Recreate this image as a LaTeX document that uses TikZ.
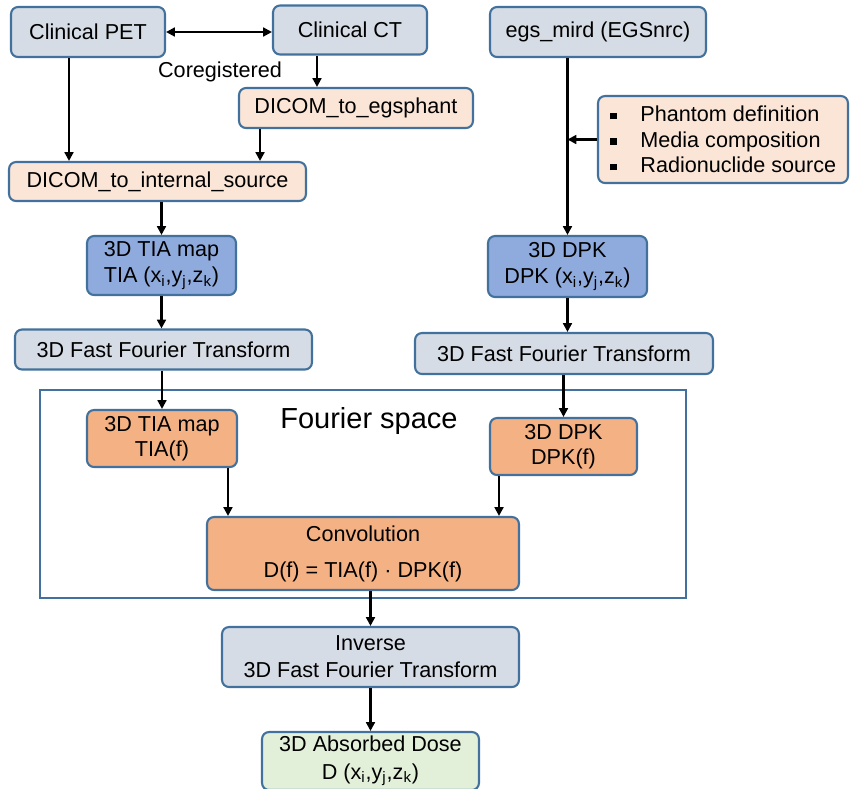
\documentclass[tikz,border=0pt]{standalone}
\usepackage{fontspec}
\setmainfont{Liberation Sans}
\usetikzlibrary{arrows.meta}
\definecolor{boxline}{HTML}{41719C}
\definecolor{grayfill}{HTML}{D6DCE5}
\definecolor{peachfill}{HTML}{FBE5D6}
\definecolor{bluefill}{HTML}{8FAADC}
\definecolor{orangefill}{HTML}{F4B183}
\definecolor{greenfill}{HTML}{E2F0D9}
\tikzset{
  box/.style={draw=boxline, line width=1.2pt, rounded corners=4pt, align=center, inner sep=1pt},
  grayb/.style={box, fill=grayfill},
  peachb/.style={box, fill=peachfill},
  blueb/.style={box, fill=bluefill},
  orangeb/.style={box, fill=orangefill},
  greenb/.style={box, fill=greenfill},
  arr/.style={-{Triangle[length=5pt,width=5pt]}, line width=1.5pt},
  darr/.style={{Triangle[length=5pt,width=5pt]}-{Triangle[length=5pt,width=5pt]}, line width=1.5pt},
}
\newcommand{\sqbul}{\raisebox{0.2ex}{\rule{0.6ex}{0.6ex}}\hspace{1.1em}}
\begin{document}
\begin{tikzpicture}[x=0.02cm, y=-0.02cm, font=\fontsize{12.3}{14.5}\selectfont]
    \useasboundingbox (0,0) rectangle (850,789);
    % Fourier space frame
    \draw[boxline, line width=1.2pt] (40,390) rectangle (686,598);
    \node (fspace) at (369,421) {\fontsize{16.5}{19}\selectfont Fourier space};
    % Inputs
    \node[grayb, minimum width=3.08cm, minimum height=1.0cm] (pet) at (88,32) {Clinical PET};
    \node[grayb, minimum width=3.08cm, minimum height=0.98cm] (ct) at (350,30) {Clinical CT};
    \node[grayb, minimum width=4.32cm, minimum height=1.0cm] (egs) at (598,32) {egs\_mird (EGSnrc)};
    \node (coreg) at (220,72) {Coregistered};
    \node[peachb, minimum width=4.68cm, minimum height=0.8cm] (phant) at (356,108) {DICOM\_to\_egsphant};
    \node[peachb, minimum width=5.94cm, minimum height=0.78cm] (src) at (157.5,181.5) {DICOM\_to\_internal\_source};
    \node[peachb, minimum width=5.0cm, minimum height=1.74cm, align=left] (bul) at (723,139.5)
        {\sqbul Phantom definition\\ \sqbul Media composition\\ \sqbul Radionuclide source};
    % Real space
    \node[blueb, minimum width=2.98cm, minimum height=1.18cm] (tia) at (161.5,265.5)
        {3D TIA map\\ TIA (x\textsubscript{i},y\textsubscript{j},z\textsubscript{k})};
    \node[blueb, minimum width=3.18cm, minimum height=1.22cm] (dpk) at (567.5,266.5)
        {3D DPK\\ DPK (x\textsubscript{i},y\textsubscript{j},z\textsubscript{k})};
    \node[grayb, minimum width=5.94cm, minimum height=0.8cm] (fftl) at (163.5,349.5) {3D Fast Fourier Transform};
    \node[grayb, minimum width=5.96cm, minimum height=0.82cm] (fftr) at (564,353.5) {3D Fast Fourier Transform};
    % Fourier space
    \node[orangeb, minimum width=3.0cm, minimum height=1.14cm] (tiaf) at (162,438.5) {3D TIA map\\ TIA(f)};
    \node[orangeb, minimum width=2.94cm, minimum height=1.14cm] (dpkf) at (563.5,446.5) {3D DPK\\ DPK(f)};
    \node[orangeb, minimum width=6.24cm, minimum height=1.46cm] (conv) at (363,553.5)
        {Convolution\\[6pt] D(f) = TIA(f) · DPK(f)};
    % Output
    \node[grayb, minimum width=5.94cm, minimum height=1.2cm] (inv) at (370.5,657)
        {Inverse\\[1pt] 3D Fast Fourier Transform};
    \node[greenb, minimum width=4.34cm, minimum height=1.16cm] (dose) at (370.5,761)
        {3D Absorbed Dose\\[1pt] D (x\textsubscript{i},y\textsubscript{j},z\textsubscript{k})};
    % Connectors
    \draw[darr] (pet.east) -- (pet.east -| ct.west);
    \draw[arr] ([xshift=-0.38cm]pet.south) -- ([xshift=-0.38cm]pet.south |- src.north);
    \draw[arr] ([xshift=-0.66cm]ct.south) -- ([xshift=-0.66cm]ct.south |- phant.north);
    \draw[arr] ([xshift=-1.92cm]phant.south) -- ([xshift=-1.92cm]phant.south |- src.north);
    \draw[arr] (src.south -| tia.north) -- (tia.north);
    \draw[arr] (tia.south) -- (tia.south |- fftl.north);
    \draw[arr] (fftl.south -| tiaf.north) -- (tiaf.north);
    \draw[arr] ([xshift=1.32cm]tiaf.south) -- ([xshift=1.32cm]tiaf.south |- conv.north);
    \draw[arr] (egs.south -| dpk.north) -- (dpk.north);
    \draw[arr] (bul.west) -- (bul.west -| dpk.north);
    \draw[arr] (dpk.south) -- (dpk.south |- fftr.north);
    \draw[arr] (fftr.south -| dpkf.north) -- (dpkf.north);
    \draw[arr] ([xshift=-1.29cm]dpkf.south) -- ([xshift=-1.29cm]dpkf.south |- conv.north);
    \draw[arr] (conv.south -| inv.north) -- (inv.north);
    \draw[arr] (inv.south) -- (dose.north);
\end{tikzpicture}
\end{document}
